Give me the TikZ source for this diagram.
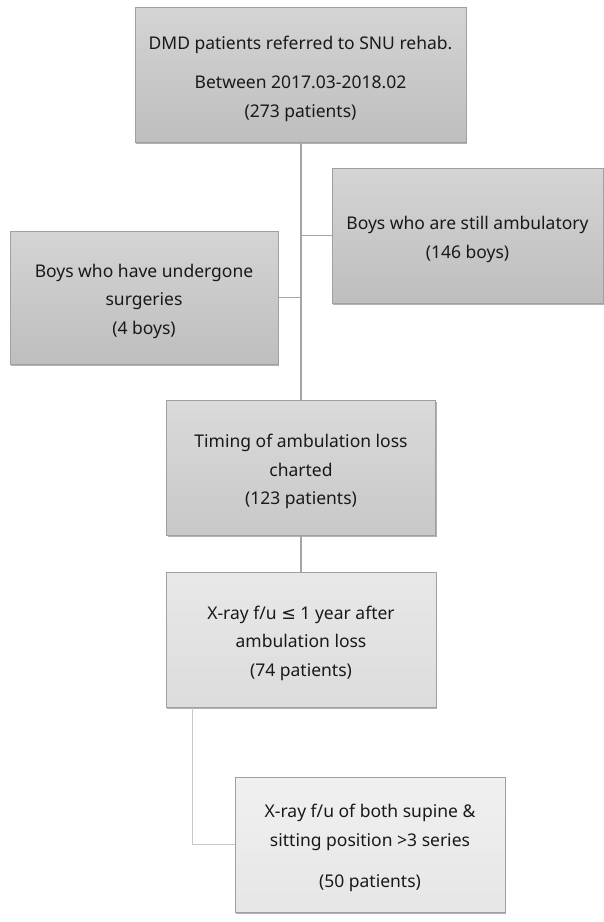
\documentclass[tikz,border=0pt]{standalone}
\usepackage{fontspec}
\setmainfont{Noto Sans}
\newfontfamily\symfont{DejaVu Sans}
\usetikzlibrary{shadows}
\newcommand{\dn}{\rule{0pt}{21pt}}
\definecolor{txt}{RGB}{25,25,25}
\definecolor{bord}{RGB}{160,160,160}
\definecolor{lineA}{RGB}{165,165,165}
\definecolor{lineB}{RGB}{200,200,200}
\tikzset{
  box/.style={draw=bord, line width=1pt, align=center, text=txt,
    font=\fontsize{17.5}{28.5}\selectfont, inner sep=2pt,
    drop shadow={shadow xshift=1pt, shadow yshift=-1.6pt, fill=black, opacity=0.3}},
  dark/.style={box, top color={rgb,255:red,212;green,212;blue,212}, bottom color={rgb,255:red,190;green,190;blue,190}},
  mid/.style={box, top color={rgb,255:red,218;green,218;blue,218}, bottom color={rgb,255:red,200;green,200;blue,200}},
  light/.style={box, top color={rgb,255:red,232;green,232;blue,232}, bottom color={rgb,255:red,220;green,220;blue,220}},
  lighter/.style={box, top color={rgb,255:red,240;green,240;blue,240}, bottom color={rgb,255:red,230;green,230;blue,230}},
  conn/.style={draw=lineA, line width=1.6pt},
  connlight/.style={draw=lineB, line width=1.6pt}
}
\begin{document}
\begin{tikzpicture}[x=1pt, y=-1pt]
\useasboundingbox[fill=white] (0,0) rectangle (604,922);
\node[dark, minimum width=331pt, minimum height=135pt] (top) at (300.5,75)
  {\dn DMD patients referred to SNU rehab.\\[11pt]Between 2017.03-2018.02\\(273 patients)};
\node[dark, minimum width=271pt, minimum height=135pt] (amb) at (467.5,235.5)
  {\dn Boys who are still ambulatory\\(146 boys)};
\node[dark, minimum width=268pt, minimum height=133pt] (surg) at (144,297.5)
  {\dn Boys who have undergone\\surgeries\\(4 boys)};
\node[mid, minimum width=269pt, minimum height=135pt] (timing) at (301,468)
  {\dn Timing of ambulation loss\\charted\\(123 patients)};
\node[light, minimum width=270pt, minimum height=135pt] (xray) at (301,639.5)
  {\dn X-ray f/u {\symfont ≤} 1 year after\\ambulation loss\\(74 patients)};
\node[lighter, minimum width=270pt, minimum height=135pt] (final) at (370,844.5)
  {\dn X-ray f/u of both supine \&\\sitting position >3 series\\[13pt](50 patients)};
\draw[conn] (top.south -| timing.north) -- (timing.north);
\draw[conn] (amb.west) -- (amb.west -| timing.north);
\draw[conn] (surg.east) -- (surg.east -| timing.north);
\draw[conn] (timing.south) -- (xray.north);
\draw[connlight] ([xshift=27pt]xray.south west) |- (final.west);
\end{tikzpicture}
\end{document}
